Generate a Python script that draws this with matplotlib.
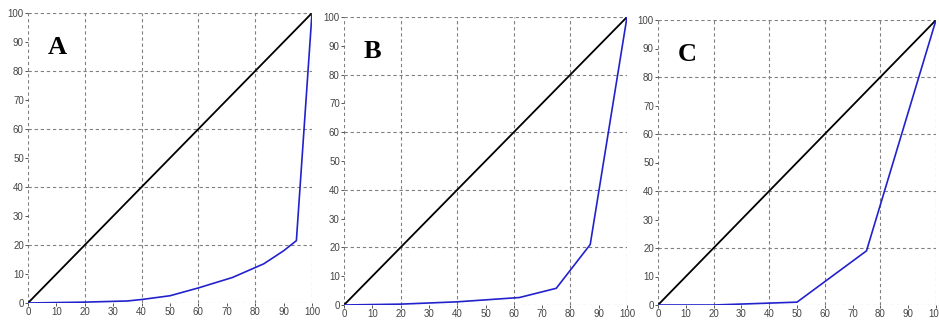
import matplotlib
matplotlib.use('Agg')
import matplotlib.pyplot as plt

# equality line
diag_x = [0, 100]
diag_y = [0, 100]

# Lorenz curves
a_x = [0, 20, 35, 40, 50, 60, 72, 83, 90, 94.5, 100]
a_y = [0, 0.3, 0.7, 1.2, 2.5, 5.2, 8.8, 13.5, 18, 21.5, 100]

b_x = [0, 20, 40, 62, 75, 87, 100]
b_y = [0, 0.3, 1.1, 2.6, 5.8, 21, 100]

c_x = [0, 20, 50, 75, 100]
c_y = [0, 0, 1, 19, 100]

panels = [
    ('A', a_x, a_y, [28 / 939, 17 / 320, 284 / 939, 290 / 320]),
    ('B', b_x, b_y, [344 / 939, 15 / 320, 283 / 939, 288 / 320]),
    ('C', c_x, c_y, [658 / 939, 15 / 320, 278 / 939, 285 / 320]),
]

ticks = list(range(0, 101, 10))
grid_col = '#808080'


def main():
    fig = plt.figure(figsize=(9.39, 3.2), dpi=100)

    for name, xs, ys, rect in panels:
        ax = fig.add_axes(rect)
        ax.set_xlim(0, 100)
        ax.set_ylim(0, 100)

        for v in range(0, 101, 20):
            ax.axvline(v, color=grid_col, ls=(0, (3, 2.5)), lw=0.8, zorder=1)
            ax.axhline(v, color=grid_col, ls=(0, (3, 2.5)), lw=0.8, zorder=1)

        ax.plot(diag_x, diag_y, color='black', lw=1.3, zorder=3)
        ax.plot(xs, ys, color='#2222cc', lw=1.2, zorder=4)

        for s in ax.spines.values():
            s.set_visible(False)

        ax.set_xticks(ticks)
        ax.set_yticks(ticks)
        ax.tick_params(labelsize=7, labelcolor='#444444', color='#555555',
                       length=2, width=0.7, pad=1)
        for lab in ax.get_xticklabels() + ax.get_yticklabels():
            lab.set_family('Liberation Sans')

        ax.text(7, 88, name, fontsize=19, fontweight='bold',
                family='Liberation Serif', va='center', ha='left')

    fig.savefig('out.png', dpi=100)


if __name__ == '__main__':
    main()
